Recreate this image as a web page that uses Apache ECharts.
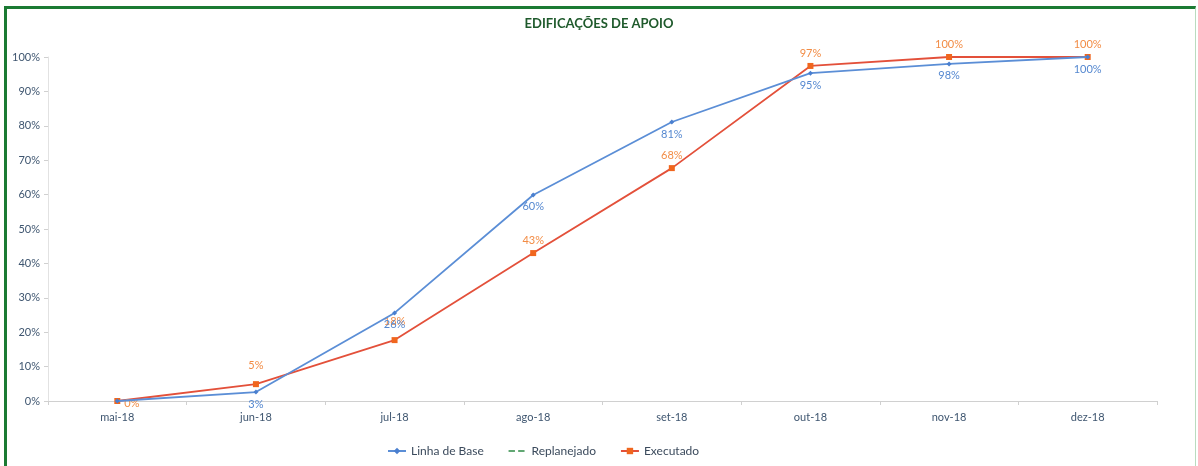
<!DOCTYPE html>
<html>
<head>
<meta charset="utf-8">
<script src="https://cdn.jsdelivr.net/npm/echarts@6/dist/echarts.min.js"></script>
<style>
  html, body { margin: 0; padding: 0; background: #ffffff; width: 1198px; height: 466px; overflow: hidden; }
  #frame { position: absolute; left: 4px; top: 6px; width: 1188px; height: 480px;
           border-left: 3px solid #1b7a33; border-top: 3px solid #1b7a33; border-right: 1px solid #b9dcbf; }
  #chart { position: absolute; left: 0; top: 0; width: 1198px; height: 466px; }
</style>
</head>
<body>
<div id="frame"></div>
<div id="chart"></div>
<script>
const title = 'EDIFICAÇÕES DE APOIO';
const categories = ['mai-18', 'jun-18', 'jul-18', 'ago-18', 'set-18', 'out-18', 'nov-18', 'dez-18'];
const linhaDeBase = [0, 2.6, 25.6, 59.9, 81.1, 95.3, 98.0, 100];
const replanejado = [];
const executado = [0, 4.9, 17.7, 43.0, 67.7, 97.4, 100, 100];
const yTicks = [0, 10, 20, 30, 40, 50, 60, 70, 80, 90, 100];

const chart = echarts.init(document.getElementById('chart'));
const font = 'Lato, "Open Sans", sans-serif';
const pct = p => Math.round(p.value) + '%';

const baseData = linhaDeBase.map((v, i) => i === 0
  ? { value: v, label: { show: false } }
  : { value: v });

const execData = executado.map((v, i) => {
  if (i === 0) return { value: v, label: { position: 'right', offset: [0, 2] } };
  if (i === 1 || i === 2) return { value: v, label: { offset: [0, -6] } };
  return { value: v };
});

chart.setOption({
  animation: false,
  textStyle: { fontFamily: font },
  title: {
    text: title, left: 'center', top: 12,
    textStyle: { fontFamily: font, fontSize: 13, fontWeight: 'bold', color: '#1f5a2c' }
  },
  grid: { left: 48, right: 41, top: 57, bottom: 65 },
  legend: {
    left: 382, bottom: 4, itemGap: 24, itemWidth: 18, itemHeight: 8,
    textStyle: { fontFamily: font, fontSize: 12, color: '#3b4a5c' },
    data: [
      'Linha de Base',
      { name: 'Replanejado', itemStyle: { opacity: 0 }, lineStyle: { type: 'dashed', width: 1.6 } },
      'Executado'
    ]
  },
  xAxis: {
    type: 'category', data: categories, boundaryGap: true,
    axisLine: { lineStyle: { color: '#d0d0d0' } },
    axisTick: { show: true, length: 4, lineStyle: { color: '#d0d0d0' } },
    axisLabel: { color: '#3f5670', fontSize: 11, margin: 11, fontFamily: font }
  },
  yAxis: {
    type: 'value', min: 0, max: 100, interval: 10,
    splitLine: { show: false },
    axisLine: { show: true, lineStyle: { color: '#e2e2e2' } },
    axisTick: { show: true, length: 4, lineStyle: { color: '#d0d0d0' } },
    axisLabel: { color: '#3f5670', fontSize: 11, margin: 8, fontFamily: font,
      formatter: v => yTicks.includes(v) ? v + '%' : '' }
  },
  series: [
    {
      name: 'Linha de Base', type: 'line', data: baseData,
      symbol: 'diamond', symbolSize: 5,
      lineStyle: { color: '#5b8ed6', width: 1.8 },
      itemStyle: { color: '#4a7fcf' },
      label: { show: true, position: 'bottom', distance: 4, color: '#5588d0', fontSize: 11,
               fontFamily: font, formatter: pct },
      z: 3
    },
    {
      name: 'Replanejado', type: 'line', data: replanejado,
      symbol: 'none',
      lineStyle: { color: '#2e8b45', type: 'dashed', width: 1.6 },
      itemStyle: { color: '#2e8b45' }
    },
    {
      name: 'Executado', type: 'line', data: execData,
      symbol: 'rect', symbolSize: 6,
      lineStyle: { color: '#e3503a', width: 1.8 },
      itemStyle: { color: '#f0661e' },
      label: { show: true, position: 'top', distance: 4, color: '#f28c45', fontSize: 11,
               fontFamily: font, formatter: pct },
      z: 2
    }
  ]
});
</script>
</body>
</html>
